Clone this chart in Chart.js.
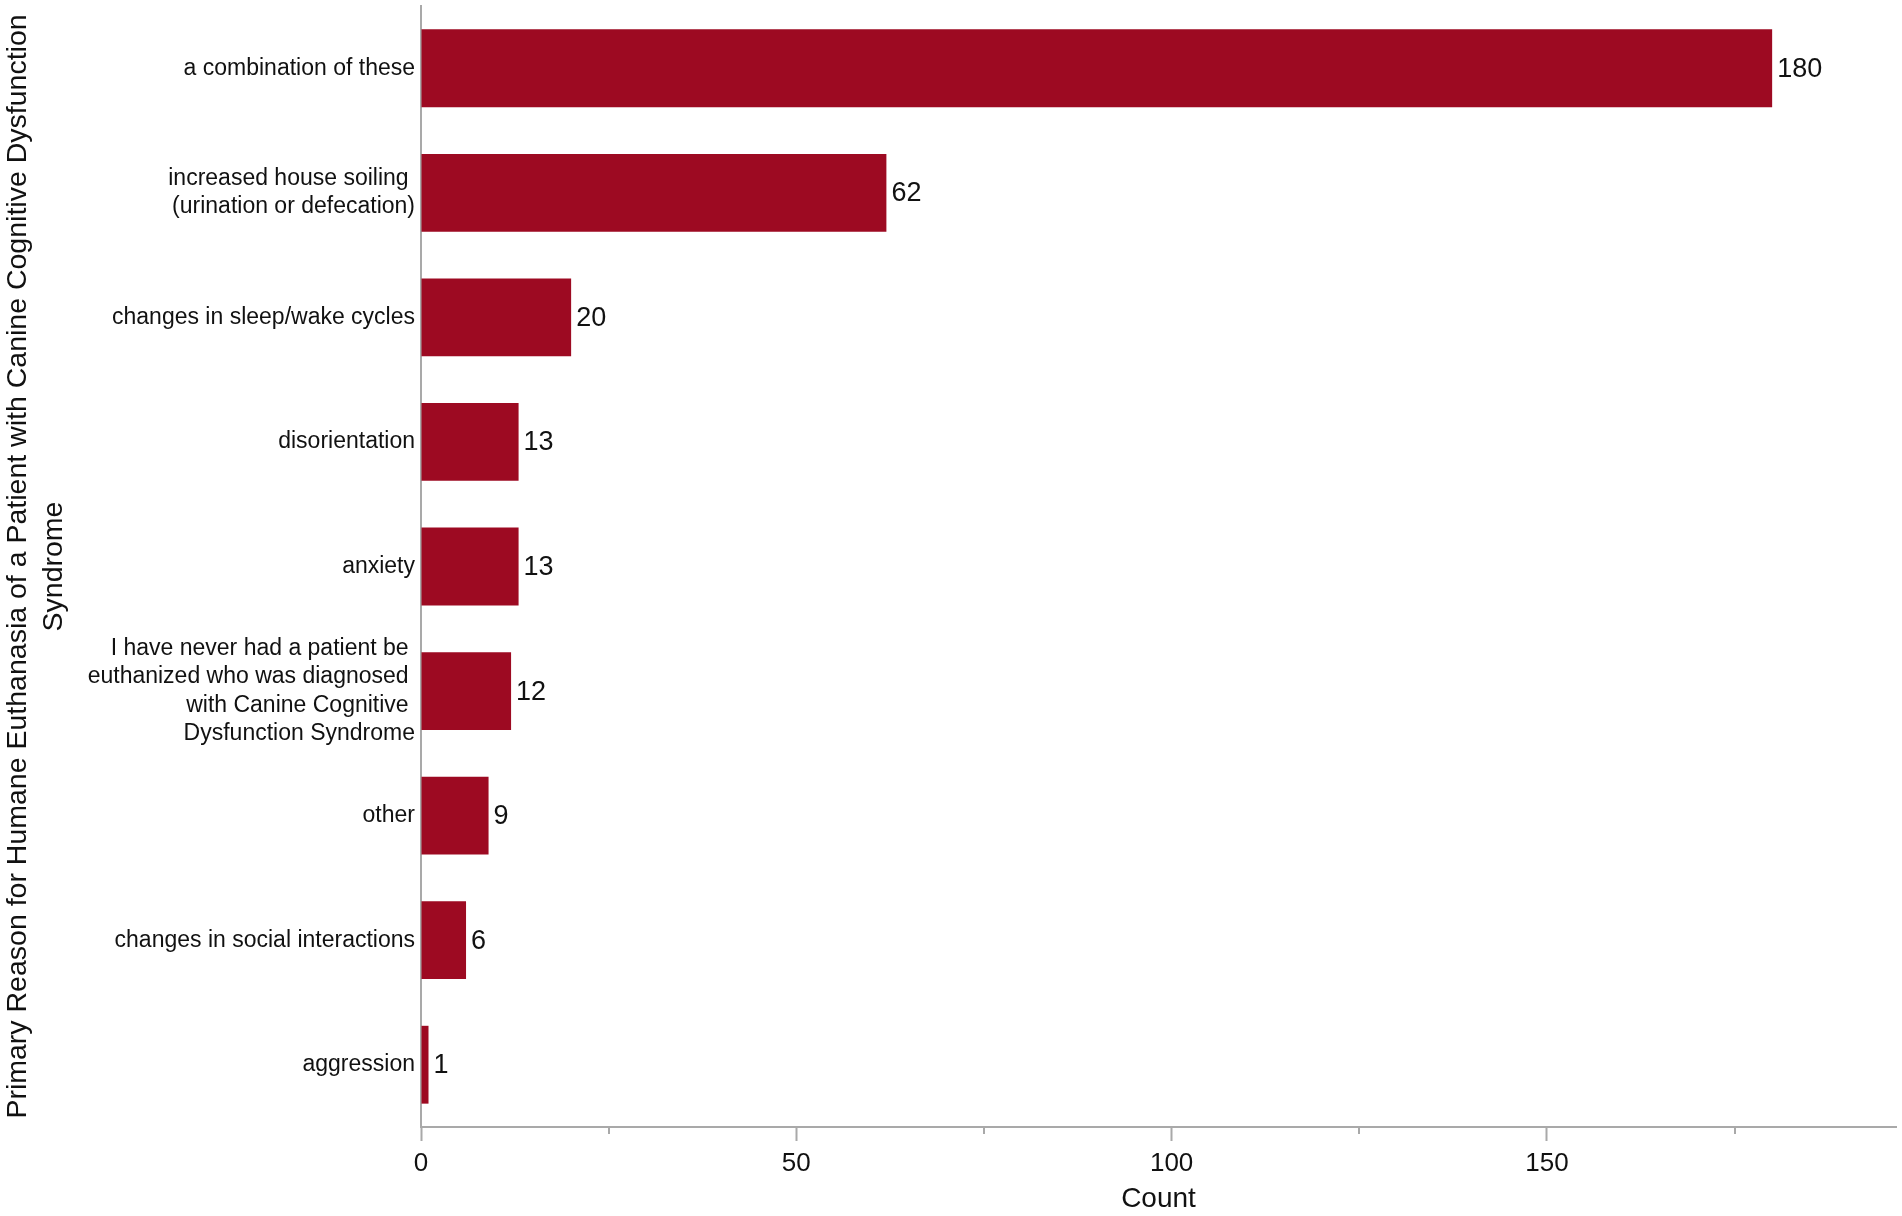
<!DOCTYPE html>
<html>
<head>
<meta charset="utf-8">
<script src="https://cdn.jsdelivr.net/npm/chart.js@4/dist/chart.umd.min.js"></script>
<style>
  html, body { margin: 0; padding: 0; background: #fff; }
  #wrap { width: 1902px; height: 1216px; position: relative; }
</style>
</head>
<body>
<div id="wrap"><canvas id="chart"></canvas></div>
<script>
// values
let reasons = [
    "a combination of these",
    ["increased house soiling ", "(urination or defecation)"],
    "changes in sleep/wake cycles",
    "disorientation",
    "anxiety",
    ["I have never had a patient be ", "euthanized who was diagnosed ", "with Canine Cognitive ", "Dysfunction Syndrome"],
    "other",
    "changes in social interactions",
    "aggression"
];
let counts = [180, 62, 20, 13, 13, 12, 9, 6, 1];
let yTitle = ["Primary Reason for Humane Euthanasia of a Patient with Canine Cognitive Dysfunction", "Syndrome"];
let xTitle = "Count";

let barColor = "#9d0a22";
let axisGrey = "#a9a9a9";
let fontFamily = "'Liberation Sans', Arial, Helvetica, sans-serif";

// prints the count just to the right of each bar
let valueLabels = {
    id: "valueLabels",
    afterDatasetsDraw(chart) {
        let ctx = chart.ctx;
        ctx.save();
        ctx.font = "27px " + fontFamily;
        ctx.fillStyle = "#111";
        ctx.textBaseline = "middle";
        ctx.textAlign = "left";
        chart.getDatasetMeta(0).data.forEach((bar, i) => {
            ctx.fillText(String(counts[i]), bar.x + 5, bar.y + 1);
        });
        ctx.restore();
    }
};

// short unlabelled ticks halfway between the labelled ones
let minorTicks = {
    id: "minorTicks",
    afterDraw(chart) {
        let scale = chart.scales.x;
        let ctx = chart.ctx;
        ctx.save();
        ctx.strokeStyle = axisGrey;
        ctx.lineWidth = 2;
        for (let v = 25; v < scale.max; v += 50) {
            let px = Math.round(scale.getPixelForValue(v));
            ctx.beginPath();
            ctx.moveTo(px, scale.top);
            ctx.lineTo(px, scale.top + 7);
            ctx.stroke();
        }
        ctx.restore();
    }
};

new Chart(document.getElementById("chart"), {
    type: "bar",
    data: {
        labels: reasons,
        datasets: [{
            data: counts,
            backgroundColor: barColor,
            borderWidth: 0,
            barPercentage: 0.625,
            categoryPercentage: 1
        }]
    },
    options: {
        indexAxis: "y",
        responsive: true,
        maintainAspectRatio: false,
        animation: false,
        devicePixelRatio: 1,
        layout: { padding: { top: 6, right: 6, left: 0, bottom: 0 } },
        plugins: {
            legend: { display: false },
            tooltip: { enabled: false }
        },
        scales: {
            x: {
                min: 0,
                max: 196.5,
                afterBuildTicks: scale => {
                    scale.ticks = scale.ticks.filter(t => t.value % 50 === 0);
                },
                afterFit: scale => { scale.height = 89; },
                ticks: {
                    stepSize: 50,
                    color: "#111",
                    padding: 7,
                    maxRotation: 0,
                    font: { family: fontFamily, size: 26 }
                },
                grid: {
                    drawOnChartArea: false,
                    drawTicks: true,
                    tickLength: 14,
                    tickWidth: 2,
                    tickColor: axisGrey
                },
                border: { display: true, color: axisGrey, width: 2 },
                title: {
                    display: true,
                    text: xTitle,
                    color: "#111",
                    font: { family: fontFamily, size: 28 },
                    padding: { top: 0, bottom: 0 }
                }
            },
            y: {
                afterFit: scale => {
                    scale.width = 421;
                    scale.paddingTop = 0;
                    scale.paddingBottom = 0;
                },
                ticks: {
                    color: "#111",
                    padding: 6,
                    font: { family: fontFamily, size: 23, lineHeight: 1.23 }
                },
                grid: { display: true, drawOnChartArea: false, drawTicks: false },
                border: { display: true, color: axisGrey, width: 2 },
                title: {
                    display: true,
                    text: yTitle,
                    color: "#111",
                    font: { family: fontFamily, size: 28.5, lineHeight: 1.27 },
                    padding: { top: 0, bottom: 0 }
                }
            }
        }
    },
    plugins: [valueLabels, minorTicks]
});
</script>
</body>
</html>
